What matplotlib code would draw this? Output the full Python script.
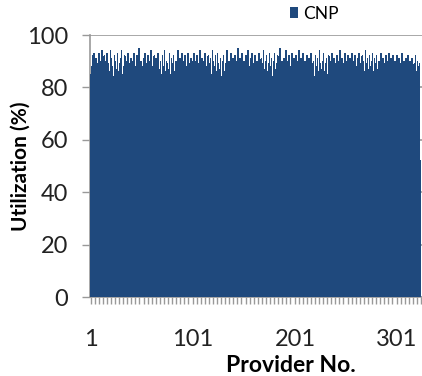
import numpy as np
import matplotlib
matplotlib.use("Agg")
import matplotlib.pyplot as plt
from matplotlib.ticker import MultipleLocator, FixedLocator

plt.rcParams['font.family'] = ['Lato', 'DejaVu Sans']

# utilization (%) per provider
utilization = [
    85, 88, 92, 93, 86, 91, 89, 84, 93, 90,
    87, 94, 88, 92, 85, 90, 93, 89, 86, 94,
    91, 88, 84, 92, 90, 87, 93, 86, 89, 91,
    94, 85, 88, 92, 90, 86, 93, 89, 87, 91,
    84, 90, 93, 88, 86, 92, 89, 95, 87, 90,
    88, 86, 91, 93, 85, 89, 92, 87, 90, 94,
    86, 88, 92, 84, 91, 89, 93, 87, 90, 85,
    92, 88, 94, 86, 90, 89, 87, 93, 85, 91,
    89, 92, 86, 90, 88, 94, 87, 91, 85, 93,
    90, 87, 92, 88, 86, 93, 89, 84, 91, 90,
    88, 93, 86, 90, 92, 87, 89, 94, 85, 91,
    87, 90, 93, 88, 86, 92, 89, 91, 85, 94,
    90, 88, 92, 86, 93, 89, 87, 91, 84, 90,
    92, 86, 89, 94, 88, 90, 87, 93, 85, 91,
    89, 92, 87, 90, 95, 86, 91, 88, 93, 87,
    90, 85, 92, 89, 94, 88, 86, 91, 93, 87,
    89, 92, 86, 90, 88, 93, 85, 91, 89, 94,
    87, 90, 92, 86, 89, 93, 88, 91, 84, 90,
    93, 87, 89, 92, 86, 95, 88, 90, 87, 91,
    89, 94, 86, 90, 92, 88, 85, 93, 89, 91,
    87, 92, 90, 86, 94, 88, 91, 89, 93, 85,
    90, 88, 92, 87, 91, 86, 93, 89, 90, 84,
    92, 88, 91, 86, 94, 89, 87, 90, 93, 86,
    89, 91, 85, 92, 88, 90, 93, 87, 91, 89,
    86, 92, 90, 88, 94, 87, 91, 89, 85, 93,
    90, 88, 92, 86, 91, 89, 93, 87, 90, 92,
    88, 85, 91, 93, 89, 87, 92, 90, 86, 94,
    89, 91, 87, 92, 88, 90, 93, 86, 91, 89,
    92, 87, 90, 88, 93, 86, 91, 89, 85, 92,
    90, 88, 93, 87, 91, 86, 92, 89, 90, 88,
    92, 87, 91, 89, 86, 93, 88, 90, 85, 91,
    89, 92, 86, 90, 88, 91, 87, 89, 92, 86,
    90, 88, 89, 52,
]
providers = np.arange(1, len(utilization) + 1)
xlabels = ["1", "101", "201", "301"]

fig = plt.figure(figsize=(4.22, 3.76), dpi=100)
ax = fig.add_axes([90/422, 1 - 297/376, 332/422, 262/376])

bars = ax.bar(providers, utilization, width=0.7, color='#1F497D', label='CNP',
              zorder=3, linewidth=0)
for b in bars:
    b.set_snap(False)
    b.set_antialiased(False)

ax.set_xlim(0, 325.5)
ax.set_ylim(0, 100)
ax.yaxis.set_major_locator(MultipleLocator(20))
ax.grid(axis='y', color='#999999', linewidth=1.2, zorder=0)

ax.set_xticks([int(l) for l in xlabels])
ax.set_xticklabels(xlabels)
ax.xaxis.set_minor_locator(FixedLocator(np.arange(0.5, 326, 4)))
ax.tick_params(axis='x', which='major', length=0, pad=23, labelsize=17,
               colors='#222222')
ax.tick_params(axis='x', which='minor', length=5, width=1, color='#999999')
ax.tick_params(axis='y', length=6, width=1, color='#999999', pad=10,
               labelsize=17, labelcolor='#222222')

for s in ['top', 'right']:
    ax.spines[s].set_visible(False)
for s in ['left', 'bottom']:
    ax.spines[s].set_color('#999999')
    ax.spines[s].set_linewidth(1.2)

ax.set_ylabel("Utilization (%)", fontsize=15, fontweight='bold')
ax.yaxis.set_label_coords(-(90 - 31) / 332, 0.5)
ax.set_xlabel("Provider No.", fontsize=16.5, fontweight='bold')
ax.xaxis.set_label_coords((291 - 90) / 332, -0.22)

fig.legend(loc='center left', bbox_to_anchor=(281/422, 1 - 14/376),
           frameon=False, fontsize=12.5, handlelength=0.5, handleheight=0.6,
           handletextpad=0.3, borderpad=0)

fig.savefig('out.png', dpi=100)
